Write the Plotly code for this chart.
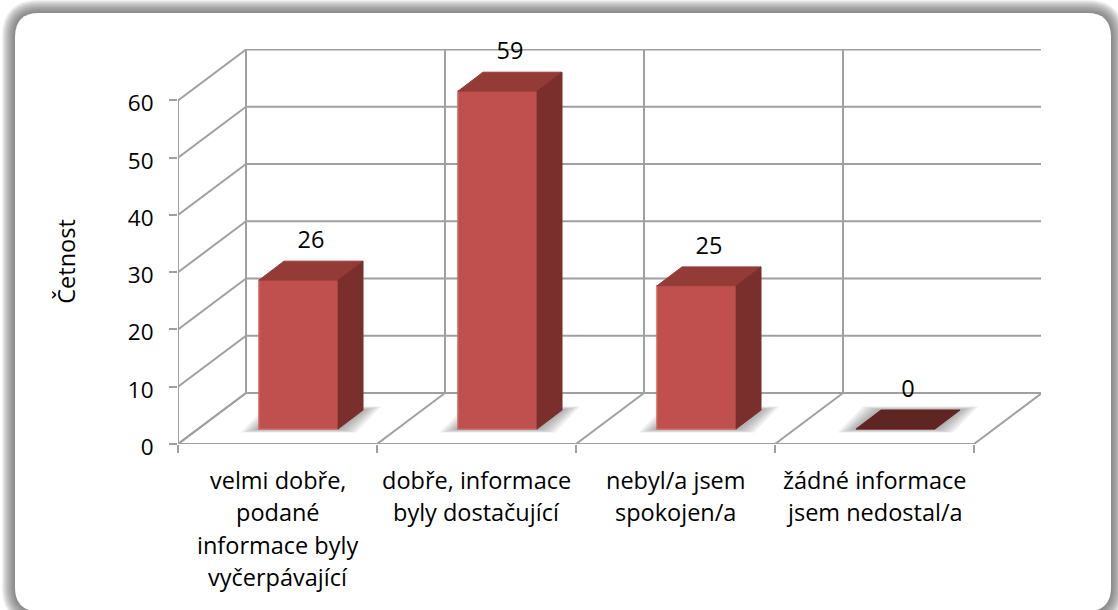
import plotly.graph_objects as go

categories = [
    ["velmi dobře,", "podané", "informace byly", "vyčerpávající"],
    ["dobře, informace", "byly dostačující"],
    ["nebyl/a jsem", "spokojen/a"],
    ["žádné informace", "jsem nedostal/a"],
]
values = [26, 59, 25, 0]
y_ticks = [0, 10, 20, 30, 40, 50, 60]
x_ticks = [0, 1, 2, 3, 4]

W, H = 1118, 610
LEFT, RIGHT, TOP, BOTTOM = 178, 1041, 49, 444.5
PX_X = 199.0        # pixels per category
PX_Y = 344 / 60     # pixels per unit of value

X_MAX = (RIGHT - LEFT) / PX_X
Y_MAX = (BOTTOM - TOP) / PX_Y

# the fake 3d box, in axis units
DEPTH_X = 68 / PX_X
DEPTH_Y = 51 / PX_Y
BAR_LEFT = 81 / PX_X
BAR_W = 79 / PX_X
BAR_BASE = 15 / PX_Y
BAR_DX = 25 / PX_X
BAR_DY = 19 / PX_Y
LABEL_UP = 38 / PX_Y

GRID = "#a0a0a0"
FRONT = "#c0504d"
TOP_C = "#943a37"
SIDE = "#7b2f2d"
FLOOR = "#5e2523"
FONT = "Open Sans"
TEXT = "#000000"
SIZE = 23.5


def poly(pts):
    return "M " + " L ".join(f"{x} {y}" for x, y in pts) + " Z"


def px_round_rect(x0, y0, x1, y1, r):
    # rounded rectangle given in window pixels, written in paper coordinates
    def sx(p):
        return (p - LEFT) / (RIGHT - LEFT)

    def sy(p):
        return (BOTTOM - p) / (BOTTOM - TOP)

    return (
        f"M {sx(x0 + r)} {sy(y0)} L {sx(x1 - r)} {sy(y0)} "
        f"Q {sx(x1)} {sy(y0)} {sx(x1)} {sy(y0 + r)} L {sx(x1)} {sy(y1 - r)} "
        f"Q {sx(x1)} {sy(y1)} {sx(x1 - r)} {sy(y1)} L {sx(x0 + r)} {sy(y1)} "
        f"Q {sx(x0)} {sy(y1)} {sx(x0)} {sy(y1 - r)} L {sx(x0)} {sy(y0 + r)} "
        f"Q {sx(x0)} {sy(y0)} {sx(x0 + r)} {sy(y0)} Z"
    )


shapes = []

# card with its blurred shadow
for k in range(13, 0, -1):
    shapes.append(dict(
        type="path", xref="paper", yref="paper", layer="below",
        path=px_round_rect(15 - k, 13 - k, 1111 + k, 612 + k, 24 + k),
        fillcolor="#5a5a5a", opacity=0.085, line=dict(width=0),
    ))
shapes.append(dict(
    type="path", xref="paper", yref="paper", layer="below",
    path=px_round_rect(15, 13, 1111, 612, 24),
    fillcolor="#ffffff", line=dict(width=0),
))


def grid_line(x0, y0, x1, y1):
    shapes.append(dict(
        type="line", xref="x", yref="y", layer="below",
        x0=x0, y0=y0, x1=x1, y1=y1,
        line=dict(color=GRID, width=2),
    ))


# walls and floor
for v in y_ticks:
    grid_line(0, v, DEPTH_X, v + DEPTH_Y)
    grid_line(DEPTH_X, v + DEPTH_Y, X_MAX, v + DEPTH_Y)
for t in x_ticks:
    grid_line(t, 0, t + DEPTH_X, DEPTH_Y)
    grid_line(t + DEPTH_X, DEPTH_Y, t + DEPTH_X, y_ticks[-1] + DEPTH_Y)
grid_line(0, 0, 0, y_ticks[-1])
grid_line(0, 0, x_ticks[-1], 0)

# soft shadow on the floor round each bar
for i in range(len(values)):
    x0 = i + BAR_LEFT
    for k in range(6, 0, -1):
        grow_x = k * 3.0 / PX_X
        grow_y = k * 0.6 / PX_Y
        shapes.append(dict(
            type="path", xref="x", yref="y", layer="below",
            path=poly([
                (x0 - grow_x, BAR_BASE - grow_y),
                (x0 + BAR_W + grow_x, BAR_BASE - grow_y),
                (x0 + BAR_W + BAR_DX + grow_x, BAR_BASE + BAR_DY + grow_y),
                (x0 + BAR_DX - grow_x, BAR_BASE + BAR_DY + grow_y),
            ]),
            fillcolor="#505050", opacity=0.09, line=dict(width=0),
        ))

fig = go.Figure()

# front faces
fig.add_trace(go.Bar(
    x=[i + BAR_LEFT + BAR_W / 2 for i in range(len(values))],
    y=values,
    base=BAR_BASE,
    width=BAR_W,
    marker=dict(color=FRONT, line=dict(color="#cb625f", width=1.5)),
    showlegend=False,
))

# top and side faces
for i, v in enumerate(values):
    x0 = i + BAR_LEFT
    x1 = x0 + BAR_W
    y1 = BAR_BASE + v
    fig.add_trace(go.Scatter(
        x=[x0, x1, x1 + BAR_DX, x0 + BAR_DX, x0],
        y=[y1, y1, y1 + BAR_DY, y1 + BAR_DY, y1],
        mode="lines", fill="toself",
        fillcolor=TOP_C if v > 0 else FLOOR,
        line=dict(color=TOP_C if v > 0 else FLOOR, width=1),
        showlegend=False,
    ))
    if v > 0:
        fig.add_trace(go.Scatter(
            x=[x1, x1 + BAR_DX, x1 + BAR_DX, x1, x1],
            y=[BAR_BASE, BAR_BASE + BAR_DY, y1 + BAR_DY, y1, BAR_BASE],
            mode="lines", fill="toself",
            fillcolor=SIDE, line=dict(color=SIDE, width=1),
            showlegend=False,
        ))

# value labels
fig.add_trace(go.Scatter(
    x=[i + BAR_LEFT + BAR_W / 2 + BAR_DX / 2 for i in range(len(values))],
    y=[BAR_BASE + v + LABEL_UP for v in values],
    text=[str(v) for v in values],
    mode="text",
    textposition="middle center",
    textfont=dict(family=FONT, size=SIZE, color=TEXT),
    cliponaxis=False,
    showlegend=False,
))

# category labels, line by line because of the wide leading
annotations = []
for i, lines in enumerate(categories):
    for n, line in enumerate(lines):
        annotations.append(dict(
            x=i + 0.5, y=0, xref="x", yref="y",
            text=line, showarrow=False,
            yanchor="middle", xanchor="center",
            yshift=-(36 + n * 32.4),
            font=dict(family=FONT, size=SIZE, color=TEXT),
        ))

annotations.append(dict(
    x=(66 - LEFT) / (RIGHT - LEFT), y=(BOTTOM - 262) / (BOTTOM - TOP),
    xref="paper", yref="paper",
    text="Četnost", textangle=-90, showarrow=False,
    xanchor="center", yanchor="middle",
    font=dict(family=FONT, size=SIZE, color=TEXT),
))

fig.update_layout(
    width=W,
    height=H,
    margin=dict(l=LEFT, r=W - RIGHT, t=TOP, b=H - BOTTOM, pad=0),
    paper_bgcolor="#ffffff",
    plot_bgcolor="rgba(0,0,0,0)",
    font=dict(family=FONT, size=SIZE, color=TEXT),
    shapes=shapes,
    annotations=annotations,
    showlegend=False,
    xaxis=dict(
        range=[0, X_MAX], tickvals=x_ticks, showticklabels=False,
        ticks="outside", ticklen=8, tickwidth=2, tickcolor=GRID,
        showgrid=False, zeroline=False, showline=False,
    ),
    yaxis=dict(
        range=[0, Y_MAX], tickvals=y_ticks,
        ticks="outside", ticklen=8, tickwidth=2, tickcolor=GRID,
        ticklabelstandoff=11, ticklabelshift=3,
        tickfont=dict(family=FONT, size=22.5, color=TEXT),
        showgrid=False, zeroline=False, showline=False,
    ),
)

fig.write_html(
    "out.html",
    config=dict(displayModeBar=False),
    post_script="document.body.style.margin='0';document.body.style.overflow='hidden';",
)
